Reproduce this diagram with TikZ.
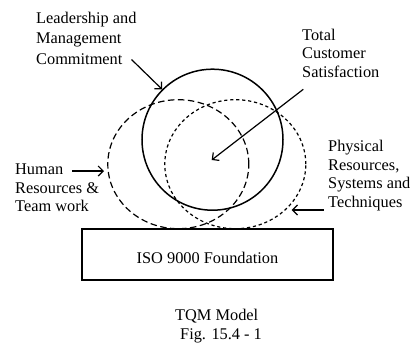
\documentclass[tikz,border=0pt]{standalone}
\usepackage{fontspec}
\setmainfont{Liberation Serif}
\usetikzlibrary{shapes.geometric,arrows.meta}
\begin{document}
\begin{tikzpicture}[x=1bp,y=-1bp,
  lbl/.style={inner sep=0pt, anchor=base west, font=\fontsize{16.4}{18.6}\selectfont},
  ring/.style={draw, ellipse, inner sep=0pt, minimum width=141bp, minimum height=129bp, line width=1.2bp},
  longdash/.style={dash pattern=on 6.5bp off 3.5bp},
  shortdash/.style={dash pattern=on 3.2bp off 2.8bp},
  pointer/.style={-{Straight Barb[length=5bp,width=10bp]}, line width=1.2bp},
]
\useasboundingbox (0,0) rectangle (413,347);

% circles
\node[ring, longdash] (human) at (178.3,164.2) {};
\node[ring, shortdash] (phys) at (235.3,164.2) {};
\node[draw, circle, inner sep=0pt, minimum size=141bp, line width=1.5bp] (lead) at (212.5,139.7) {};

% foundation box
\node[draw, fill=white, line width=1.5bp, minimum width=251bp, minimum height=51bp,
      inner sep=0pt, text height=17bp, text depth=0pt,
      font=\fontsize{16.4}{18.6}\selectfont] (iso) at (207.5,254.5) {ISO 9000 Foundation};

% labels
\node[lbl, font=\fontsize{16.4}{20.5}\selectfont] (leadtxt) at (36,23.3)
  {\begin{tabular}[t]{@{}l@{}}Leadership and\\Management\\Commitment\end{tabular}};
\node[lbl] (tcstxt) at (302,40)
  {\begin{tabular}[t]{@{}l@{}}Total\\Customer\\Satisfaction\end{tabular}};
\node[lbl] (humtxt) at (15,174.5)
  {\begin{tabular}[t]{@{}l@{}}Human\\Resources \&\\Team work\end{tabular}};
\node[lbl] (phystxt) at (328,151.5)
  {\begin{tabular}[t]{@{}l@{}}Physical\\Resources,\\Systems and\\Techniques\end{tabular}};
\node[lbl, font=\fontsize{16.4}{20}\selectfont] (caption) at (175,320)
  {\begin{tabular}[t]{@{}l@{}}TQM Model\\\hspace*{5bp}Fig. 15.4 - 1\end{tabular}};

% connector ends
\coordinate (leadtail) at (131.5,59.5);
\coordinate (tcstail) at (303.3,89.3);
\coordinate (tcstip) at (211.7,160);
\coordinate (humtail) at (72,171);
\coordinate (humtip) at (104,171);
\coordinate (phystail) at (323.5,210);
\coordinate (phystip) at (291.7,210);

% arrows
\draw[pointer] (leadtail) -- (lead.135);
\draw[pointer] (tcstail) -- (tcstip);
\draw[pointer] (humtail) -- (humtip);
\draw[pointer] (phystail) -- (phystip);
\end{tikzpicture}
\end{document}
